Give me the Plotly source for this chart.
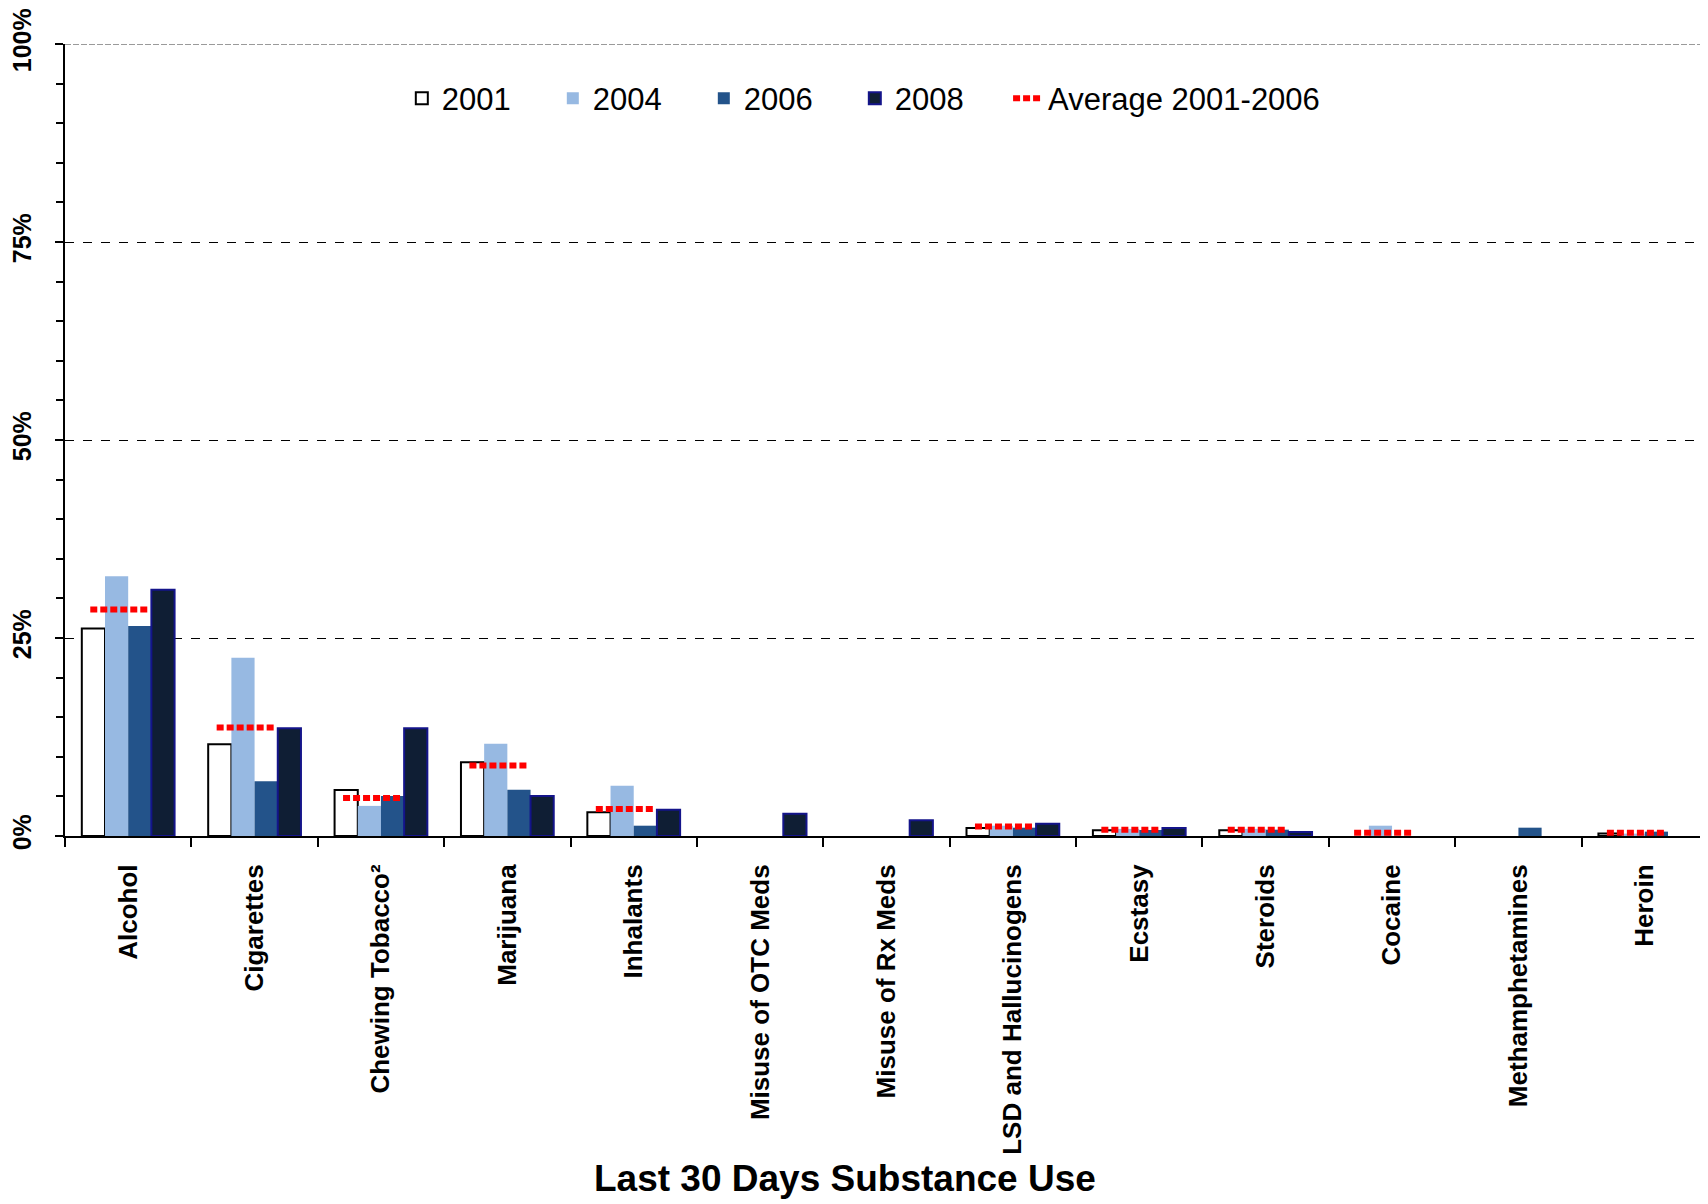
import plotly.graph_objects as go

categories = ["Alcohol", "Cigarettes", "Chewing Tobacco²", "Marijuana", "Inhalants",
              "Misuse of OTC Meds", "Misuse of Rx Meds", "LSD and Hallucinogens",
              "Ecstasy", "Steroids", "Cocaine", "Methamphetamines", "Heroin"]
y2001 = [26.2, 11.6, 5.8, 9.3, 3.0, None, None, 1.0, 0.72, 0.72, None, None, 0.3]
y2004 = [32.8, 22.5, 3.8, 11.65, 6.35, None, None, 1.3, 0.9, 0.9, 1.3, None, 0.3]
y2006 = [26.5, 6.9, 5.05, 5.85, 1.3, None, None, 1.05, 0.76, 0.8, None, 1.05, 0.55]
y2008 = [31.1, 13.6, 13.6, 5.05, 3.3, 2.8, 2.0, 1.55, 1.0, 0.5, None, None, None]
avg_2001_2006 = [28.6, 13.7, 4.8, 8.9, 3.4, None, None, 1.2, 0.8, 0.8, 0.4, None, 0.4]
y_ticks = [0, 25, 50, 75, 100]

idx = list(range(len(categories)))
FONT = "Liberation Sans, Arial, sans-serif"

fig = go.Figure()
fig.add_bar(x=idx, y=y2001, name="2001",
            marker=dict(color="white", line=dict(color="black", width=2)))
fig.add_bar(x=idx, y=y2004, name="2004",
            marker=dict(color="#97B9E2", line=dict(width=0)))
fig.add_bar(x=idx, y=y2006, name="2006",
            marker=dict(color="#23538A", line=dict(width=0)))
fig.add_bar(x=idx, y=y2008, name="2008",
            marker=dict(color="#0F1E34", line=dict(color="#14148A", width=2)))

ax, ay = [], []
for i, v in enumerate(avg_2001_2006):
    if v is not None:
        ax += [i - 0.30, i + 0.16, None]
        ay += [v, v, None]
fig.add_scatter(x=ax, y=ay, mode="lines", name="Average 2001-2006", legend="legend2",
                line=dict(color="#FF0000", width=6, dash="7px,3px"),
                connectgaps=False)

fig.update_layout(
    width=1700, height=1196,
    margin=dict(l=54, r=0, t=36, b=368),
    paper_bgcolor="white", plot_bgcolor="white",
    barmode="group", bargap=0.266, bargroupgap=0,
    font=dict(family=FONT, color="black"),
    showlegend=True,
    legend=dict(orientation="h", x=0.205, y=0.965, xanchor="left", yanchor="top",
                font=dict(size=31, family=FONT), entrywidth=106, entrywidthmode="pixels",
                traceorder="normal", bgcolor="rgba(0,0,0,0)"),
    legend2=dict(orientation="h", x=0.574, y=0.965, xanchor="left", yanchor="top",
                 font=dict(size=31, family=FONT), bgcolor="rgba(0,0,0,0)"),
)

fig.update_xaxes(
    range=[-0.5, len(categories) - 0.5],
    tickmode="array", tickvals=idx, ticktext=categories,
    tickangle=-90, ticks="", showgrid=False, zeroline=False,
    tickfont=dict(size=26, family=FONT, weight="bold"),
    showline=True, linecolor="black", linewidth=2,
    minor=dict(tickmode="array", tickvals=[i - 0.5 for i in range(len(categories) + 1)],
               ticks="outside", ticklen=9, tickwidth=2, tickcolor="black", showgrid=False),
    ticklabelstandoff=16,
)

fig.update_yaxes(
    range=[0, 100], tickmode="array", tickvals=y_ticks,
    ticktext=[f"{v}%" for v in y_ticks],
    tickangle=-90, ticks="outside", ticklen=8, tickwidth=2, tickcolor="black",
    tickfont=dict(size=25, family=FONT, weight="bold"),
    showgrid=True, gridcolor="black", griddash="dash", gridwidth=1,
    zeroline=False, showline=True, linecolor="black", linewidth=2,
    minor=dict(dtick=5, ticks="outside", ticklen=7, tickwidth=2, tickcolor="black", showgrid=False),
    ticklabelstandoff=14,
)

fig.add_shape(type="line", xref="paper", yref="y", x0=0, x1=1, y0=100, y1=100,
              line=dict(color="#9A9A9A", width=2, dash="6px,2px"))

fig.add_annotation(text="<b>Last 30 Days Substance Use</b>", xref="paper", yref="paper",
                   x=0.475, y=-0.432, xanchor="center", yanchor="middle", showarrow=False,
                   font=dict(size=37, family=FONT, color="black"))

fig.write_html("out.html")
